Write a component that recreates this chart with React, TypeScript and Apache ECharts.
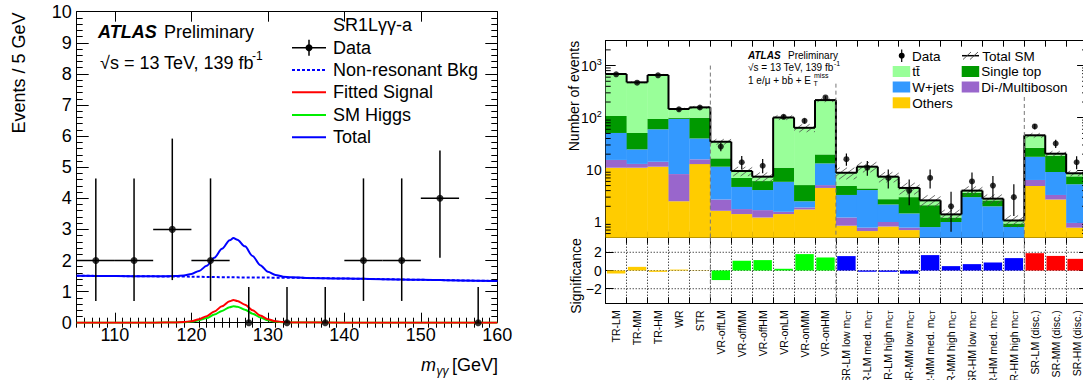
import React, { useEffect, useRef } from 'react';
import * as echarts from 'echarts';

const FONT = '"Liberation Sans", Arial, Helvetica, sans-serif';

// ---------------- Left panel: SR1Lγγ-a, m_γγ spectrum ----------------
const massBinCenters = [107.5, 112.5, 117.5, 122.5, 127.5, 132.5, 137.5, 142.5, 147.5, 152.5, 157.5];
const massBinHalfWidth = 2.5;
const massCounts = [2, 2, 3, 2, 0, 0, 0, 2, 2, 4, 0];
const massErrLowEnd = [0.7, 0.7, 1.37, 0.7, 0, 0, 0, 0.7, 0.7, 2.09, 0];
const massErrHighEnd = [4.64, 4.64, 5.92, 4.64, 1.15, 1.15, 1.15, 4.64, 4.64, 5.54, 1.15];

const bkgX = [105, 110, 115, 120, 125, 130, 135, 140, 145, 150, 155, 160];
const bkgY = [1.51, 1.5, 1.49, 1.48, 1.46, 1.45, 1.44, 1.42, 1.4, 1.38, 1.36, 1.34];

const sigX = [105, 115, 118, 119, 120, 121, 122, 123, 124, 125, 125.5, 126, 127, 128, 129, 130, 131, 132, 133, 140, 160];
const fittedSignal = [0, 0, 0.01, 0.02, 0.05, 0.11, 0.21, 0.36, 0.53, 0.69, 0.73, 0.7, 0.58, 0.4, 0.23, 0.11, 0.05, 0.02, 0.01, 0, 0];
const smHiggs = [0, 0, 0.01, 0.015, 0.035, 0.08, 0.15, 0.26, 0.38, 0.5, 0.53, 0.51, 0.42, 0.29, 0.17, 0.08, 0.035, 0.015, 0.01, 0, 0];

const totalX = [105, 110, 115, 118, 119, 120, 121, 122, 123, 124, 125, 125.5, 126, 127, 128, 129, 130, 131, 132, 133, 135, 140, 145, 150, 155, 160];
const totalY = [1.51, 1.5, 1.49, 1.5, 1.515, 1.565, 1.665, 1.83, 2.09, 2.375, 2.65, 2.72, 2.67, 2.455, 2.145, 1.85, 1.64, 1.535, 1.48, 1.465, 1.44, 1.42, 1.4, 1.38, 1.36, 1.34];

const massMajorTicks = [110, 120, 130, 140, 150, 160];
const massMinorTicks = [105, 106, 107, 108, 109, 111, 112, 113, 114, 115, 116, 117, 118, 119, 121, 122, 123, 124, 125, 126, 127, 128, 129, 131, 132, 133, 134, 135, 136, 137, 138, 139, 141, 142, 143, 144, 145, 146, 147, 148, 149, 151, 152, 153, 154, 155, 156, 157, 158, 159];

// ---------------- Right panel: regions ----------------
const regions = [
  'TR-LM', 'TR-MM', 'TR-HM', 'WR', 'STR',
  'VR-offLM', 'VR-offMM', 'VR-offHM', 'VR-onLM', 'VR-onMM', 'VR-onHM',
  'SR-LM low m_CT', 'SR-LM med. m_CT', 'SR-LM high m_CT',
  'SR-MM low m_CT', 'SR-MM med. m_CT', 'SR-MM high m_CT',
  'SR-HM low m_CT', 'SR-HM med. m_CT', 'SR-HM high m_CT',
  'SR-LM (disc.)', 'SR-MM (disc.)', 'SR-HM (disc.)',
];
const others = [11, 11, 11.5, 2.5, 12.9, 1.64, 1.42, 1.22, 1.42, 1.74, 4.5, 0.85, 0.67, 0.82, 0.7, 0.15, 0.15, 0.15, 0.15, 0.1, 4.9, 2.7, 0.78];
const diboson = [4.5, 2, 2.8, 5.8, 3, 1.06, 0.35, 0.47, 0.15, 0.16, 0.6, 0.37, 0.11, 0.18, 0.08, 0.05, 0.05, 0.05, 0.05, 0.05, 1.5, 0.6, 0.18];
const wjets = [35.5, 11.7, 45.7, 86.7, 24.1, 8.8, 2.93, 2.41, 4.33, 0.6, 8.2, 2.08, 3.32, 1.17, 0.68, 0.6, 0.8, 2.8, 1.8, 0.65, 11.4, 5.8, 4.34];
const singleTop = [57, 26.3, 35, 5, 60, 5.1, 2.3, 2.0, 5.1, 2.6, 6.5, 1.6, 0.3, 0.57, 1.54, 1.3, 0.22, 0.6, 0.6, 0.14, 8.7, 9.6, 2.2];
const ttbar = [581, 426, 564, 47, 58, 18, 2.5, 1.3, 90, 58.9, 198, 3.9, 7.1, 4.66, 1.5, 0.5, 0.18, 0.4, 0.2, 0.13, 19.5, 1.7, 1.1];
const totalSMRelUnc = [0.03, 0.03, 0.03, 0.04, 0.05, 0.12, 0.2, 0.2, 0.1, 0.17, 0.08, 0.25, 0.22, 0.22, 0.25, 0.25, 0.22, 0.2, 0.2, 0.25, 0.1, 0.12, 0.12];
const regionData = [680, 470, 650, 145, 157, 28, 14, 12, 104, 87, 245, 16, 11, 7, 4, 7, 2, 6, 5, 3, 68, 32, 14];
const regionDataErrLo = [26, 22, 25, 12, 12.5, 5.3, 3.7, 3.4, 10, 9.3, 15.7, 4, 3.3, 2.6, 1.9, 2.6, 1.35, 2.4, 2.2, 1.7, 8.2, 5.6, 3.7];
const regionDataErrHi = [26, 22, 25, 12, 12.5, 5.3, 4.5, 4.2, 10, 9.3, 15.7, 4.5, 3.8, 3.2, 2.5, 3.2, 1.8, 2.9, 2.6, 2.3, 8.2, 5.6, 4.2];
const significance = [-0.33, 0.4, -0.15, 0.1, 0.03, -1.05, 1.07, 1.14, 0.19, 1.8, 1.43, 1.58, -0.14, -0.15, -0.36, 1.69, 0.48, 0.7, 0.88, 1.36, 1.9, 1.6, 1.28];
const regionGroup = ['CR', 'CR', 'CR', 'CR', 'CR', 'VR', 'VR', 'VR', 'VR', 'VR', 'VR', 'SR', 'SR', 'SR', 'SR', 'SR', 'SR', 'SR', 'SR', 'SR', 'DISC', 'DISC', 'DISC'];
const separatorBoundaries = [5, 11, 20];
const separatorTops = [1000, 450, 250];
const sigGridValues = [-2, 0, 2];

const LOG_MIN = 0.5;
const LOG_MAX = 3000;
const SIG_MIN = -3.6;
const SIG_MAX = 3.6;

const C_OTHERS = '#ffcc00';
const C_DIBOSON = '#9966cc';
const C_WJETS = '#3399ff';
const C_SINGLETOP = '#009900';
const C_TTBAR = '#99ff99';
const groupColor: Record<string, string> = { CR: '#ffcc00', VR: '#00ff00', SR: '#0000ff', DISC: '#ff0000' };

function minorLogTicks(): number[] {
  const out: number[] = [];
  for (const d of [0.1, 1, 10, 100, 1000]) {
    for (let m = 2; m <= 9; m++) {
      const v = m * d;
      if (v > LOG_MIN + 1e-9 && v < LOG_MAX - 1e-9) out.push(v);
    }
  }
  return out;
}

function bandInfo(api: any) {
  const bw = api.coord([1, 1])[0] - api.coord([0, 1])[0];
  const left = api.coord([0, 1])[0] - bw / 2;
  const right = api.coord([regions.length - 1, 1])[0] + bw / 2;
  return { bw, left, right };
}

function txt(text: string, x: number, y: number, size: number, extra: any = {}) {
  return {
    type: 'text',
    x,
    y,
    silent: true,
    style: {
      text,
      fill: '#000',
      fontSize: size,
      fontFamily: FONT,
      verticalAlign: 'middle',
      align: 'left',
      ...extra,
    },
  };
}

function buildOption(): any {
  const black = '#000';
  const frameLine = { show: true, onZero: false, lineStyle: { color: black, width: 1 } };

  // ---------- graphic (legends / titles) ----------
  const g: any[] = [];
  // left panel
  g.push(txt('ATLAS', 98, 32, 18, { fontWeight: 'bold', fontStyle: 'italic' }));
  g.push(txt('Preliminary', 164, 32, 18));
  g.push(txt('\u221As = 13 TeV, 139 fb', 100, 63, 18));
  g.push(txt('-1', 252, 56, 12));
  g.push(txt('SR1L\u03b3\u03b3-a', 333, 25, 18));
  const lgY = [47.7, 70, 92.3, 115, 137.3];
  const lgNames = ['Data', 'Non-resonant Bkg', 'Fitted Signal', 'SM Higgs', 'Total'];
  lgNames.forEach((n, k) => g.push(txt(n, 333, lgY[k], 18)));
  g.push({ type: 'line', silent: true, shape: { x1: 292, y1: lgY[0], x2: 326, y2: lgY[0] }, style: { stroke: black, lineWidth: 1.5 } });
  g.push({ type: 'line', silent: true, shape: { x1: 309, y1: lgY[0] - 8, x2: 309, y2: lgY[0] + 8 }, style: { stroke: black, lineWidth: 1.5 } });
  g.push({ type: 'circle', silent: true, shape: { cx: 309, cy: lgY[0], r: 3.5 }, style: { fill: black } });
  g.push({ type: 'line', silent: true, shape: { x1: 292, y1: lgY[1], x2: 326, y2: lgY[1] }, style: { stroke: '#0000ff', lineWidth: 2, lineDash: [3, 2] } });
  g.push({ type: 'line', silent: true, shape: { x1: 292, y1: lgY[2], x2: 326, y2: lgY[2] }, style: { stroke: '#ff0000', lineWidth: 2 } });
  g.push({ type: 'line', silent: true, shape: { x1: 292, y1: lgY[3], x2: 326, y2: lgY[3] }, style: { stroke: '#00ee00', lineWidth: 2 } });
  g.push({ type: 'line', silent: true, shape: { x1: 292, y1: lgY[4], x2: 326, y2: lgY[4] }, style: { stroke: '#0000ff', lineWidth: 2 } });
  // axis titles left
  g.push(txt('Events / 5 GeV', 18.5, 73, 18, { align: 'center' }));
  g[g.length - 1].rotation = Math.PI / 2;
  g.push(txt('m', 421, 365, 18, { fontStyle: 'italic' }));
  g.push(txt('\u03b3\u03b3', 436.5, 371, 12, { fontStyle: 'italic' }));
  g.push(txt('[GeV]', 452, 365, 18));

  // right panel texts
  g.push(txt('ATLAS', 748, 55, 10, { fontWeight: 'bold', fontStyle: 'italic' }));
  g.push(txt('Preliminary', 788, 55, 10));
  g.push(txt('\u221As = 13 TeV, 139 fb', 748, 67, 10));
  g.push(txt('-1', 834, 63, 7));
  g.push(txt('1 e/\u03bc + bb\u0304 + E', 748, 80, 10));
  g.push(txt('miss', 814, 75.5, 7));
  g.push(txt('T', 813.5, 83.5, 7));
  // right legend
  g.push({ type: 'line', silent: true, shape: { x1: 901.7, y1: 49.5, x2: 901.7, y2: 62 }, style: { stroke: black, lineWidth: 1.2 } });
  g.push({ type: 'circle', silent: true, shape: { cx: 901.7, cy: 55.7, r: 3 }, style: { fill: black } });
  g.push(txt('Data', 912, 56, 13.5));
  g.push({ type: 'line', silent: true, shape: { x1: 962, y1: 55.7, x2: 979, y2: 55.7 }, style: { stroke: black, lineWidth: 1.5 } });
  g.push({ type: 'line', silent: true, shape: { x1: 963, y1: 59.5, x2: 971, y2: 52 }, style: { stroke: '#444', lineWidth: 0.9 } });
  g.push({ type: 'line', silent: true, shape: { x1: 970, y1: 59.5, x2: 978, y2: 52 }, style: { stroke: '#444', lineWidth: 0.9 } });
  g.push(txt('Total SM', 982.3, 56, 13.5));
  const boxes: [number, number, string, string][] = [
    [892.7, 71.5, C_TTBAR, 'tt\u0304'],
    [961.7, 71.5, C_SINGLETOP, 'Single top'],
    [892.7, 87, C_WJETS, 'W+jets'],
    [961.7, 87, C_DIBOSON, 'Di-/Multiboson'],
    [892.7, 102.8, C_OTHERS, 'Others'],
  ];
  boxes.forEach(([bx, by, col, name]) => {
    g.push({ type: 'rect', silent: true, shape: { x: bx, y: by - 5.5, width: 17.5, height: 11 }, style: { fill: col } });
    g.push(txt(name, bx + 19.6, by + 0.3, 13.5));
  });
  g.push(txt('Number of events', 574, 96, 14, { align: 'center' }));
  g[g.length - 1].rotation = Math.PI / 2;
  g.push(txt('Significance', 576, 276, 14, { align: 'center' }));
  g[g.length - 1].rotation = Math.PI / 2;

  // ---------- axes ----------
  const massAxisBase = { type: 'value', gridIndex: 0, min: 105, max: 160, splitLine: { show: false }, axisLine: frameLine };
  const xAxis: any[] = [
    {
      ...massAxisBase, position: 'bottom',
      axisTick: { show: true, inside: true, length: 10, customValues: massMajorTicks, lineStyle: { color: black } },
      axisLabel: { show: true, customValues: massMajorTicks, fontSize: 18, fontFamily: FONT, color: black, margin: 3 },
    },
    {
      ...massAxisBase, position: 'bottom', axisLine: { show: false },
      axisTick: { show: true, inside: true, length: 5, customValues: massMinorTicks, lineStyle: { color: black } },
      axisLabel: { show: false },
    },
    {
      ...massAxisBase, position: 'top',
      axisTick: { show: true, inside: true, length: 10, customValues: massMajorTicks, lineStyle: { color: black } },
      axisLabel: { show: false },
    },
    {
      ...massAxisBase, position: 'top', axisLine: { show: false },
      axisTick: { show: true, inside: true, length: 5, customValues: massMinorTicks, lineStyle: { color: black } },
      axisLabel: { show: false },
    },
    {
      type: 'category', gridIndex: 1, position: 'bottom', data: regions, boundaryGap: true,
      axisLine: frameLine, axisTick: { show: true, inside: true, length: 6, interval: 0, lineStyle: { color: black } },
      axisLabel: { show: false }, splitLine: { show: false },
    },
    {
      type: 'category', gridIndex: 1, position: 'top', data: regions, boundaryGap: true,
      axisLine: frameLine, axisTick: { show: true, inside: true, length: 6, interval: 0, lineStyle: { color: black } },
      axisLabel: { show: false }, splitLine: { show: false },
    },
    {
      type: 'category', gridIndex: 2, position: 'bottom', data: regions, boundaryGap: true,
      axisLine: frameLine, axisTick: { show: true, inside: true, length: 6, interval: 0, lineStyle: { color: black } },
      axisLabel: {
        show: true, interval: 0, rotate: 90, margin: 7, fontSize: 10.5, fontFamily: FONT, color: black, hideOverlap: false,
        formatter: (v: string) => v.replace(' m_CT', ' m{sub|CT}'),
        rich: { sub: { fontSize: 7, fontFamily: FONT, color: black, verticalAlign: 'bottom', lineHeight: 8 } },
      },
      splitLine: { show: true, interval: 0, lineStyle: { color: black, type: [1, 2], width: 1 } },
    },
    {
      type: 'category', gridIndex: 2, position: 'top', data: regions, boundaryGap: true,
      axisLine: frameLine, axisTick: { show: true, inside: true, length: 6, interval: 0, lineStyle: { color: black } },
      axisLabel: { show: false }, splitLine: { show: false },
    },
  ];

  const logLabel = (v: number) => {
    const l = Math.log10(v);
    const r = Math.round(l);
    if (Math.abs(l - r) > 1e-6) return '';
    if (r === 0) return '1';
    if (r === 1) return '10';
    return `{b|10}{sup|${r}}`;
  };
  const yAxis: any[] = [
    {
      type: 'value', gridIndex: 0, position: 'left', min: 0, max: 10, interval: 1, axisLine: frameLine,
      axisTick: { show: true, inside: true, length: 12, lineStyle: { color: black } },
      minorTick: { show: true, splitNumber: 5, length: 6, lineStyle: { color: black } },
      axisLabel: { show: true, fontSize: 18, fontFamily: FONT, color: black, margin: 5 },
      splitLine: { show: false },
    },
    {
      type: 'value', gridIndex: 0, position: 'right', min: 0, max: 10, interval: 1, axisLine: frameLine,
      axisTick: { show: true, inside: true, length: 12, lineStyle: { color: black } },
      minorTick: { show: true, splitNumber: 5, length: 6, lineStyle: { color: black } },
      axisLabel: { show: false }, splitLine: { show: false },
    },
    {
      type: 'log', logBase: 10, gridIndex: 1, position: 'left', min: LOG_MIN, max: LOG_MAX, axisLine: frameLine,
      axisTick: { show: true, inside: true, length: 10, lineStyle: { color: black } },
      axisLabel: {
        show: true, margin: 4, fontSize: 14, fontFamily: FONT, color: black, formatter: logLabel,
        rich: {
          b: { fontSize: 14, fontFamily: FONT, color: black, lineHeight: 16 },
          sup: { fontSize: 9, fontFamily: FONT, color: black, verticalAlign: 'top', lineHeight: 10 },
        },
      },
      splitLine: { show: false },
    },
    {
      type: 'log', logBase: 10, gridIndex: 1, position: 'right', min: LOG_MIN, max: LOG_MAX, axisLine: frameLine,
      axisTick: { show: true, inside: true, length: 10, lineStyle: { color: black } },
      axisLabel: { show: false }, splitLine: { show: false },
    },
    {
      type: 'value', gridIndex: 2, position: 'left', min: SIG_MIN, max: SIG_MAX, axisLine: frameLine,
      axisTick: { show: true, inside: true, length: 8, customValues: sigGridValues, lineStyle: { color: black } },
      axisLabel: {
        show: true, customValues: sigGridValues, fontSize: 14, fontFamily: FONT, color: black, margin: 4, hideOverlap: false,
        formatter: (v: number) => (v < 0 ? '\u2212' + Math.abs(v) : String(v)),
      },
      splitLine: { show: false },
    },
    {
      type: 'value', gridIndex: 2, position: 'right', min: SIG_MIN, max: SIG_MAX, axisLine: frameLine,
      axisTick: { show: true, inside: true, length: 8, customValues: sigGridValues, lineStyle: { color: black } },
      axisLabel: { show: false }, splitLine: { show: false },
    },
  ];

  // ---------- series ----------
  const series: any[] = [];
  series.push({
    type: 'line', xAxisIndex: 0, yAxisIndex: 0, data: bkgX.map((x, i) => [x, bkgY[i]]),
    symbol: 'none', smooth: 0.3, lineStyle: { color: '#0000ff', width: 2, type: [3, 2] }, silent: true, z: 2,
  });
  series.push({
    type: 'line', xAxisIndex: 0, yAxisIndex: 0, data: sigX.map((x, i) => [x, smHiggs[i]]),
    symbol: 'none', smooth: 0.3, smoothMonotone: 'x', lineStyle: { color: '#00ee00', width: 2 }, silent: true, z: 2,
  });
  series.push({
    type: 'line', xAxisIndex: 0, yAxisIndex: 0, data: sigX.map((x, i) => [x, fittedSignal[i]]),
    symbol: 'none', smooth: 0.3, smoothMonotone: 'x', lineStyle: { color: '#ff0000', width: 2 }, silent: true, z: 2,
  });
  series.push({
    type: 'line', xAxisIndex: 0, yAxisIndex: 0, data: totalX.map((x, i) => [x, totalY[i]]),
    symbol: 'none', smooth: 0.3, smoothMonotone: 'x', lineStyle: { color: '#0000ff', width: 2 }, silent: true, z: 2,
  });
  series.push({
    type: 'custom', xAxisIndex: 0, yAxisIndex: 0, silent: true, z: 3,
    data: massBinCenters.map((x, i) => [x, massCounts[i], massErrLowEnd[i], massErrHighEnd[i]]),
    renderItem: (params: any, api: any) => {
      const x = api.value(0), y = api.value(1), lo = api.value(2), hi = api.value(3);
      const p = api.coord([x, y]);
      const pl = api.coord([x, lo]);
      const ph = api.coord([x, hi]);
      const children: any[] = [
        { type: 'line', shape: { x1: p[0], y1: pl[1], x2: p[0], y2: ph[1] }, style: { stroke: '#000', lineWidth: 1.5 } },
      ];
      if (y > 0) {
        const a = api.coord([x - massBinHalfWidth, y]);
        const b = api.coord([x + massBinHalfWidth, y]);
        children.push({ type: 'line', shape: { x1: a[0], y1: a[1], x2: b[0], y2: b[1] }, style: { stroke: '#000', lineWidth: 1.5 } });
      }
      return { type: 'group', children };
    },
  });
  series.push({
    type: 'scatter', xAxisIndex: 0, yAxisIndex: 0, silent: true, z: 4,
    data: massBinCenters.map((x, i) => [x, massCounts[i]]),
    symbol: 'circle', symbolSize: 7, itemStyle: { color: '#000' },
  });

  const clampLog = (v: number) => Math.min(Math.max(v, LOG_MIN), LOG_MAX);
  const layerColors = [C_OTHERS, C_DIBOSON, C_WJETS, C_SINGLETOP, C_TTBAR];
  series.push({
    type: 'custom', xAxisIndex: 4, yAxisIndex: 2, silent: true, z: 2,
    data: regions.map((_, i) => [i, others[i], diboson[i], wjets[i], singleTop[i], ttbar[i]]),
    renderItem: (params: any, api: any) => {
      const i = api.value(0);
      const { bw } = bandInfo(api);
      const x0 = api.coord([i, 1])[0] - bw / 2;
      const children: any[] = [];
      let cum = 0;
      for (let k = 0; k < 5; k++) {
        const lower = cum;
        const upper = cum + api.value(k + 1);
        cum = upper;
        if (upper <= LOG_MIN) continue;
        const yb = api.coord([i, clampLog(lower)])[1];
        const yt = api.coord([i, clampLog(upper)])[1];
        children.push({ type: 'rect', shape: { x: x0, y: yt, width: bw + 0.3, height: yb - yt }, style: { fill: layerColors[k] } });
      }
      return { type: 'group', children };
    },
  });
  const totals = regions.map((_, i) => others[i] + diboson[i] + wjets[i] + singleTop[i] + ttbar[i]);
  series.push({
    type: 'custom', xAxisIndex: 4, yAxisIndex: 2, silent: true, z: 3,
    data: regions.map((_, i) => [i, totals[i] * (1 - totalSMRelUnc[i]), totals[i] * (1 + totalSMRelUnc[i])]),
    renderItem: (params: any, api: any) => {
      const i = api.value(0);
      const { bw } = bandInfo(api);
      const x0 = api.coord([i, 1])[0] - bw / 2;
      const x1 = x0 + bw;
      const yBot = api.coord([i, clampLog(api.value(1))])[1];
      const yTop = api.coord([i, clampLog(api.value(2))])[1];
      const k = 0.75;
      const s = 5.5;
      const children: any[] = [];
      const kMin = Math.floor((k * x0 + yTop) / s) * s;
      const kMax = k * x1 + yBot;
      for (let K = kMin; K <= kMax; K += s) {
        const lo = Math.max(x0, (K - yBot) / k);
        const hi = Math.min(x1, (K - yTop) / k);
        if (hi - lo > 0.2) {
          children.push({ type: 'line', shape: { x1: lo, y1: K - k * lo, x2: hi, y2: K - k * hi }, style: { stroke: '#4a4a4a', lineWidth: 0.8 } });
        }
      }
      return { type: 'group', children };
    },
  });
  series.push({
    type: 'custom', xAxisIndex: 4, yAxisIndex: 2, silent: true, z: 4,
    data: regions.map((_, i) => [i, totals[i], i > 0 ? totals[i - 1] : -1]),
    renderItem: (params: any, api: any) => {
      const i = api.value(0);
      const { bw } = bandInfo(api);
      const x0 = api.coord([i, 1])[0] - bw / 2;
      const y = api.coord([i, clampLog(api.value(1))])[1];
      const children: any[] = [
        { type: 'line', shape: { x1: x0, y1: y, x2: x0 + bw, y2: y }, style: { stroke: '#000', lineWidth: 2 } },
      ];
      const prev = api.value(2);
      if (prev > 0) {
        const yp = api.coord([i, clampLog(prev)])[1];
        children.push({ type: 'line', shape: { x1: x0, y1: yp, x2: x0, y2: y }, style: { stroke: '#000', lineWidth: 2 } });
      }
      return { type: 'group', children };
    },
  });
  series.push({
    type: 'custom', xAxisIndex: 4, yAxisIndex: 2, silent: true, z: 5,
    data: separatorBoundaries.map((b, k) => [b, separatorTops[k]]),
    renderItem: (params: any, api: any) => {
      const b = api.value(0);
      const { bw } = bandInfo(api);
      const x = api.coord([b, 1])[0] - bw / 2;
      const yt = api.coord([b, clampLog(api.value(1))])[1];
      const yb = api.coord([b, LOG_MIN])[1];
      return { type: 'line', shape: { x1: x, y1: yt, x2: x, y2: yb }, style: { stroke: '#777', lineWidth: 1, lineDash: [4, 3] } };
    },
  });
  series.push({
    type: 'custom', xAxisIndex: 4, yAxisIndex: 2, silent: true, z: 6,
    data: minorLogTicks().map((v) => [0, v]),
    renderItem: (params: any, api: any) => {
      const { left, right } = bandInfo(api);
      const y = api.coord([0, api.value(1)])[1];
      return {
        type: 'group',
        children: [
          { type: 'line', shape: { x1: left, y1: y, x2: left + 5, y2: y }, style: { stroke: '#000', lineWidth: 1 } },
          { type: 'line', shape: { x1: right - 5, y1: y, x2: right, y2: y }, style: { stroke: '#000', lineWidth: 1 } },
        ],
      };
    },
  });
  series.push({
    type: 'custom', xAxisIndex: 4, yAxisIndex: 2, silent: true, z: 7,
    data: regions.map((_, i) => [i, regionData[i], regionData[i] - regionDataErrLo[i], regionData[i] + regionDataErrHi[i]]),
    renderItem: (params: any, api: any) => {
      const i = api.value(0);
      const x = api.coord([i, 1])[0];
      const yl = api.coord([i, clampLog(api.value(2))])[1];
      const yh = api.coord([i, clampLog(api.value(3))])[1];
      return { type: 'line', shape: { x1: x, y1: yl, x2: x, y2: yh }, style: { stroke: '#000', lineWidth: 1.2 } };
    },
  });
  series.push({
    type: 'scatter', xAxisIndex: 4, yAxisIndex: 2, silent: true, z: 8,
    data: regions.map((_, i) => [i, regionData[i]]),
    symbol: 'circle', symbolSize: 6, itemStyle: { color: '#000' },
  });

  series.push({
    type: 'custom', xAxisIndex: 6, yAxisIndex: 4, silent: true, z: 1,
    data: sigGridValues.map((v) => [0, v]),
    renderItem: (params: any, api: any) => {
      const { left, right } = bandInfo(api);
      const y = api.coord([0, api.value(1)])[1];
      return { type: 'line', shape: { x1: left, y1: y, x2: right, y2: y }, style: { stroke: '#000', lineWidth: 1, lineDash: [1, 2] } };
    },
  });
  series.push({
    type: 'bar', xAxisIndex: 6, yAxisIndex: 4, silent: true, z: 2, barWidth: '88%',
    data: significance.map((v, i) => ({ value: v, itemStyle: { color: groupColor[regionGroup[i]] } })),
  });
  series.push({
    type: 'custom', xAxisIndex: 6, yAxisIndex: 4, silent: true, z: 3,
    data: separatorBoundaries.map((b) => [b, 0]),
    renderItem: (params: any, api: any) => {
      const b = api.value(0);
      const { bw } = bandInfo(api);
      const x = api.coord([b, 0])[0] - bw / 2;
      const yt = api.coord([b, SIG_MAX])[1];
      const yb = api.coord([b, SIG_MIN])[1];
      return { type: 'line', shape: { x1: x, y1: yt, x2: x, y2: yb }, style: { stroke: '#777', lineWidth: 1, lineDash: [4, 3] } };
    },
  });

  return {
    animation: false,
    backgroundColor: '#fff',
    textStyle: { fontFamily: FONT },
    grid: [
      { left: 76.7, top: 11.7, width: 420.6, height: 311, outerBoundsMode: 'none', containLabel: false },
      { left: 605.7, top: 40.7, width: 481.4, height: 197, outerBoundsMode: 'none', containLabel: false },
      { left: 605.7, top: 237.7, width: 481.4, height: 65.6, outerBoundsMode: 'none', containLabel: false },
    ],
    xAxis,
    yAxis,
    series,
    graphic: g,
  };
}

export default function App() {
  const ref = useRef<HTMLDivElement>(null);
  useEffect(() => {
    if (!ref.current) return;
    const chart = echarts.init(ref.current, null, { renderer: 'svg' });
    chart.setOption(buildOption());
    return () => chart.dispose();
  }, []);
  return (
    <div style={{ position: 'fixed', left: 0, top: 0, width: 1083, height: 380, overflow: 'hidden', background: '#fff' }}>
      <div ref={ref} style={{ width: 1100, height: 380 }} />
    </div>
  );
}
